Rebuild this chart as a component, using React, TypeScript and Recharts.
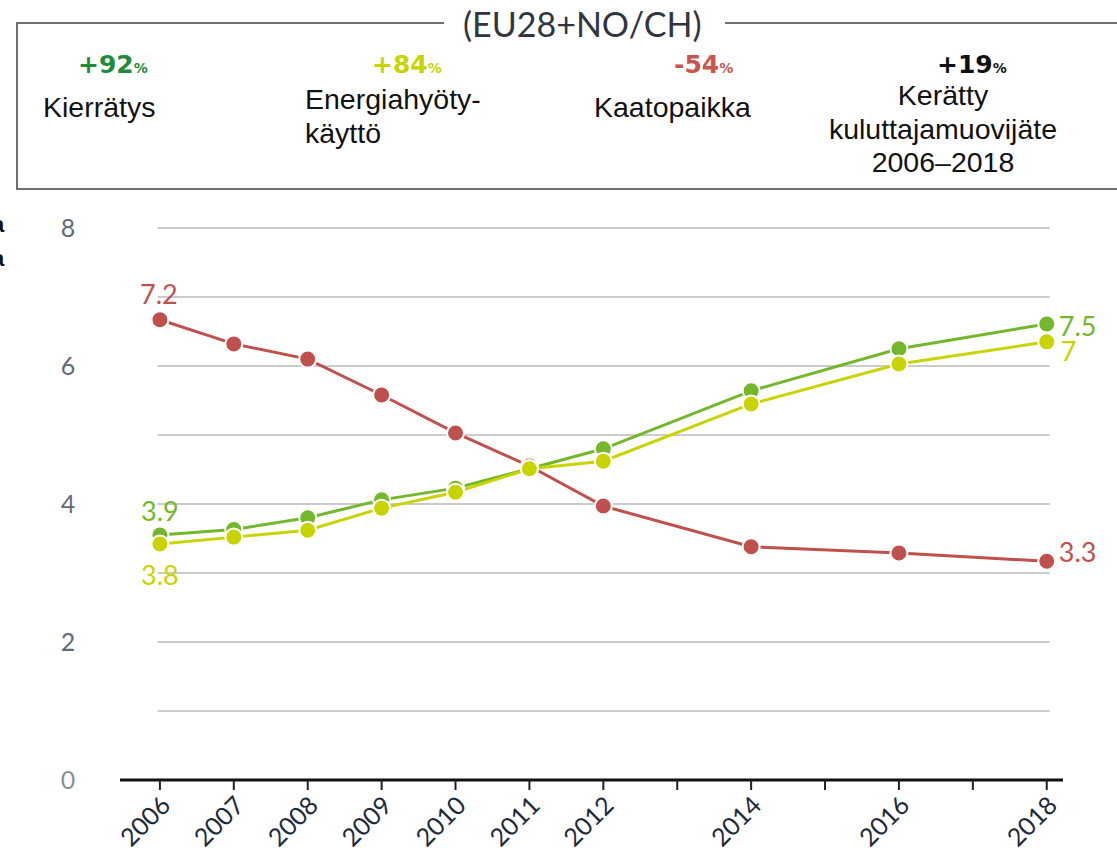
import React from "react";
import { LineChart, Line, XAxis, YAxis, ReferenceLine } from "recharts";

const RED = "#c0504d";
const GREEN = "#74b72c";
const YELLOW = "#c8d400";
const AXIS_TXT = "#5f6b78";
const NUM_FONT = "Lato, 'Open Sans', sans-serif";
const TXT_FONT = "'Liberation Sans', Arial, sans-serif";
const PCT_FONT = "'DejaVu Sans', Verdana, sans-serif";

const years = [2006, 2007, 2008, 2009, 2010, 2011, 2012, 2014, 2016, 2018];
const kierratys = [3.55, 3.63, 3.8, 4.06, 4.23, 4.51, 4.8, 5.64, 6.25, 6.61];
const energia = [3.42, 3.52, 3.62, 3.94, 4.17, 4.51, 4.62, 5.45, 6.03, 6.35];
const kaatopaikka = [6.67, 6.32, 6.1, 5.58, 5.03, 4.55, 3.97, 3.38, 3.29, 3.17];

const xTicks = [2006, 2007, 2008, 2009, 2010, 2011, 2012, 2013, 2014, 2015, 2016, 2017, 2018];
const xLabelled = [2006, 2007, 2008, 2009, 2010, 2011, 2012, 2014, 2016, 2018];
const yTicks = [0, 2, 4, 6, 8];
const gridLevels = [1, 2, 3, 4, 5, 6, 7, 8];

// end labels as printed on the chart: [first, last]
const redLabels = ["7.2", "3.3"];
const greenLabels = ["3.9", "7.5"];
const yellowLabels = ["3.8", "7"];

const data = years.map((year, i) => ({
  year,
  kierratys: kierratys[i],
  energia: energia[i],
  kaatopaikka: kaatopaikka[i],
}));

const XTick = ({ x, y, payload }: any) => {
  if (!xLabelled.includes(payload.value)) return null;
  const ax = x + 12;
  const ay = y + 15;
  return (
    <text x={ax} y={ay} transform={`rotate(-45 ${ax} ${ay})`} textAnchor="end"
      fontFamily={NUM_FONT} fontSize={25} fill="#1c2a3c">
      {payload.value}
    </text>
  );
};

const YTick = ({ y, payload }: any) => (
  <text x={68} y={y + 9} textAnchor="middle" fontFamily={NUM_FONT} fontSize={25}
    fill={payload.value === 0 ? "#8a8f96" : AXIS_TXT}>
    {payload.value}
  </text>
);

// offsets: [dx, dy, anchor] for first and last point
function endLabel(texts: string[], color: string, first: [number, number, string], last: [number, number, string]) {
  return (p: any) => {
    const n = years.length;
    if (p.index !== 0 && p.index !== n - 1) return null;
    const o = p.index === 0 ? first : last;
    return (
      <text key={p.index} x={p.x + o[0]} y={p.y + o[1]} textAnchor={o[2] as any}
        fontFamily={NUM_FONT} fontSize={27} fill={color}>
        {p.index === 0 ? texts[0] : texts[1]}
      </text>
    );
  };
}

const dot = (c: string) => ({ r: 8.5, fill: c, stroke: "#fff", strokeWidth: 2 });

function Stat({ left, pct, color, lines, pctLeft, textTop, width, align = "left" }: any) {
  return (
    <>
      <div style={{ position: "absolute", left: pctLeft, top: 52, fontFamily: PCT_FONT, fontWeight: 700, fontSize: 25, lineHeight: "25px", color, whiteSpace: "nowrap" }}>
        {pct}<span style={{ fontSize: 14 }}>%</span>
      </div>
      <div style={{ position: "absolute", left, top: textTop, width, fontFamily: TXT_FONT, fontSize: 28.5, lineHeight: "33.5px", color: "#111", textAlign: align, whiteSpace: "nowrap" }}>
        {lines.map((l: string) => <div key={l}>{l}</div>)}
      </div>
    </>
  );
}

export default function App() {
  return (
    <div style={{ position: "absolute", left: 0, top: 0, width: 1117, height: 853, background: "#fff", overflow: "hidden" }}>
      <LineChart width={1117} height={853} data={data} margin={{ top: 228, right: 54, bottom: 0, left: 0 }}>
        <XAxis dataKey="year" type="number" domain={[2005.46, 2018.22]} ticks={xTicks} interval={0}
          height={73} tick={<XTick />} tickSize={10} tickMargin={2}
          axisLine={{ stroke: "#111", strokeWidth: 3 }} tickLine={{ stroke: "#222", strokeWidth: 2 }} />
        <YAxis type="number" domain={[0, 8]} ticks={yTicks} width={120} axisLine={false} tickLine={false} tick={<YTick />} />
        {gridLevels.map((g) => (
          <ReferenceLine key={g} segment={[{ x: 2005.97, y: g }, { x: 2018.04, y: g }]} stroke="#cbcbcb" strokeWidth={2} />
        ))}
        <Line type="linear" dataKey="kaatopaikka" stroke={RED} strokeWidth={3} dot={dot(RED)} activeDot={false}
          isAnimationActive={false} label={endLabel(redLabels, RED, [-1, -16, "middle"], [12, 1, "start"])} />
        <Line type="linear" dataKey="kierratys" stroke={GREEN} strokeWidth={3} dot={dot(GREEN)} activeDot={false}
          isAnimationActive={false} label={endLabel(greenLabels, GREEN, [0, -14, "middle"], [12, 12, "start"])} />
        <Line type="linear" dataKey="energia" stroke={YELLOW} strokeWidth={3} dot={dot(YELLOW)} activeDot={false}
          isAnimationActive={false} label={endLabel(yellowLabels, YELLOW, [0, 41, "middle"], [14, 19, "start"])} />
      </LineChart>

      {/* legend box */}
      <div style={{ position: "absolute", left: 16, top: 22, width: 428, height: 0, borderTop: "2px solid #707070" }} />
      <div style={{ position: "absolute", left: 725, top: 22, width: 400, height: 0, borderTop: "2px solid #707070" }} />
      <div style={{ position: "absolute", left: 16, top: 22, width: 0, height: 167, borderLeft: "2px solid #707070" }} />
      <div style={{ position: "absolute", left: 16, top: 188, width: 1110, height: 0, borderTop: "2px solid #707070" }} />
      <div style={{ position: "absolute", left: 463, top: 3, fontFamily: NUM_FONT, fontSize: 34, color: "#2f3640", whiteSpace: "nowrap" }}>
        (EU28+NO/CH)
      </div>

      <Stat pctLeft={78} pct="+92" color="#1f8b3b" left={43} textTop={91} lines={["Kierrätys"]} />
      <Stat pctLeft={372} pct="+84" color={YELLOW} left={305} textTop={83} lines={["Energiahyöty-", "käyttö"]} />
      <Stat pctLeft={674} pct="-54" color="#c9564e" left={594} textTop={91} lines={["Kaatopaikka"]} />
      <Stat pctLeft={937} pct="+19" color="#111" left={793} width={300} textTop={79} align="center"
        lines={["Kerätty", "kuluttajamuovijäte", "2006–2018"]} />

      {/* clipped fragments at left edge */}
      <div style={{ position: "absolute", left: -8, top: 212, fontFamily: TXT_FONT, fontSize: 22, fontWeight: 700, color: "#111" }}>a</div>
      <div style={{ position: "absolute", left: -8, top: 246, fontFamily: TXT_FONT, fontSize: 22, fontWeight: 700, color: "#111" }}>a</div>
    </div>
  );
}
